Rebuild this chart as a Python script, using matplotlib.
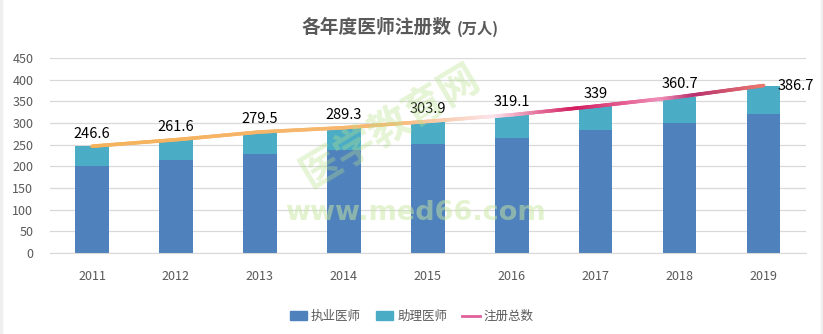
import numpy as np
import matplotlib
matplotlib.use('Agg')
import matplotlib.pyplot as plt
from matplotlib.collections import LineCollection
from matplotlib.colors import LinearSegmentedColormap
from matplotlib.lines import Line2D
from matplotlib.patches import Patch, Rectangle

plt.rcParams['font.family'] = ['Noto Sans CJK SC', 'DejaVu Sans']

years = ['2011', '2012', '2013', '2014', '2015', '2016', '2017', '2018', '2019']
practicing = [202.0, 213.9, 228.6, 237.5, 250.8, 265.1, 282.9, 301.0, 321.1]
assistant = [44.6, 47.7, 50.9, 51.8, 53.1, 54.0, 56.1, 59.7, 65.6]
totals = [246.6, 261.6, 279.5, 289.3, 303.9, 319.1, 339, 360.7, 386.7]

blue = '#4F81BD'
teal = '#4BACC6'
grey_text = '#595959'

fig = plt.figure(figsize=(8.23, 3.34), dpi=100)
ax = fig.add_axes([0.0608, 0.2425, 0.918, 0.5835])

# thin grey strips at the left and right edges
fig.patches.append(Rectangle((0, 0), 0.003, 1, transform=fig.transFigure,
                             color='#EFEFEF', zorder=0))
fig.patches.append(Rectangle((0.997, 0), 0.003, 1, transform=fig.transFigure,
                             color='#EFEFEF', zorder=0))

x = np.arange(len(years))
ax.bar(x, practicing, 0.4, color=blue, zorder=2)
ax.bar(x, assistant, 0.4, bottom=practicing, color=teal, zorder=2)

# total line drawn with a colour gradient
line_cmap = LinearSegmentedColormap.from_list('total', [
    (0.0, '#F5B25A'), (0.45, '#F7B873'), (0.6, '#FBE3EC'),
    (0.72, '#D31B5E'), (0.85, '#F090B8'), (0.9, '#B8306E'),
    (1.0, '#E8786E')])
xs = np.linspace(x[0], x[-1], 400)
ys = np.interp(xs, x, totals)
pts = np.column_stack([xs, ys]).reshape(-1, 1, 2)
segs = np.concatenate([pts[:-1], pts[1:]], axis=1)
lc = LineCollection(segs, cmap=line_cmap, linewidth=2.6, zorder=3,
                    capstyle='round')
lc.set_array(np.linspace(0, 1, len(segs)))
ax.add_collection(lc)

for i, v in enumerate(totals):
    label = '%g' % v
    if i == len(totals) - 1:
        ax.annotate(label, (x[i], v), xytext=(10, 0), textcoords='offset points',
                    ha='left', va='center', fontsize=10.5, color='black', zorder=4)
    else:
        ax.annotate(label, (x[i], v), xytext=(0, 4), textcoords='offset points',
                    ha='center', va='bottom', fontsize=10.5, color='black', zorder=4)

ax.set_xlim(-0.5, len(years) - 0.5)
ax.set_ylim(0, 450)
ax.set_yticks(range(0, 451, 50))
ax.set_xticks(x)
ax.set_xticklabels(years)
ax.tick_params(axis='both', length=0, labelsize=9, colors=grey_text)
ax.tick_params(axis='x', pad=12)
ax.tick_params(axis='y', pad=12)
ax.grid(axis='y', color='#D9D9D9', linewidth=0.9, zorder=0)
for side in ['top', 'right', 'left']:
    ax.spines[side].set_visible(False)
ax.spines['bottom'].set_color('#D9D9D9')

fig.text(0.549, 0.918, '各年度医师注册数', fontsize=13.5, fontweight='bold',
         color=grey_text, ha='right', va='center')
fig.text(0.555, 0.915, '(万人)', fontsize=11, fontweight='bold',
         color=grey_text, ha='left', va='center')

# watermark
fig.text(0.475, 0.62, '医学教育网', fontsize=29, fontweight='bold',
         color='#B8E08A', alpha=0.35, rotation=31, ha='center', va='center')
fig.text(0.505, 0.362, 'www.med66.com', fontsize=19.5, fontweight='bold',
         color='#C8E8A0', alpha=0.5, ha='center', va='center',
         family='DejaVu Sans')

handles = [Patch(color=blue), Patch(color=teal),
           Line2D([0], [0], color='#E0609A', linewidth=2)]
fig.legend(handles, ['执业医师', '助理医师', '注册总数'], loc='center',
           bbox_to_anchor=(0.5, 0.052), ncol=3, frameon=False, fontsize=9,
           labelcolor=grey_text, handlelength=1.4, handleheight=0.7,
           handletextpad=0.3, columnspacing=1.2)

fig.savefig('out.png', dpi=100)
